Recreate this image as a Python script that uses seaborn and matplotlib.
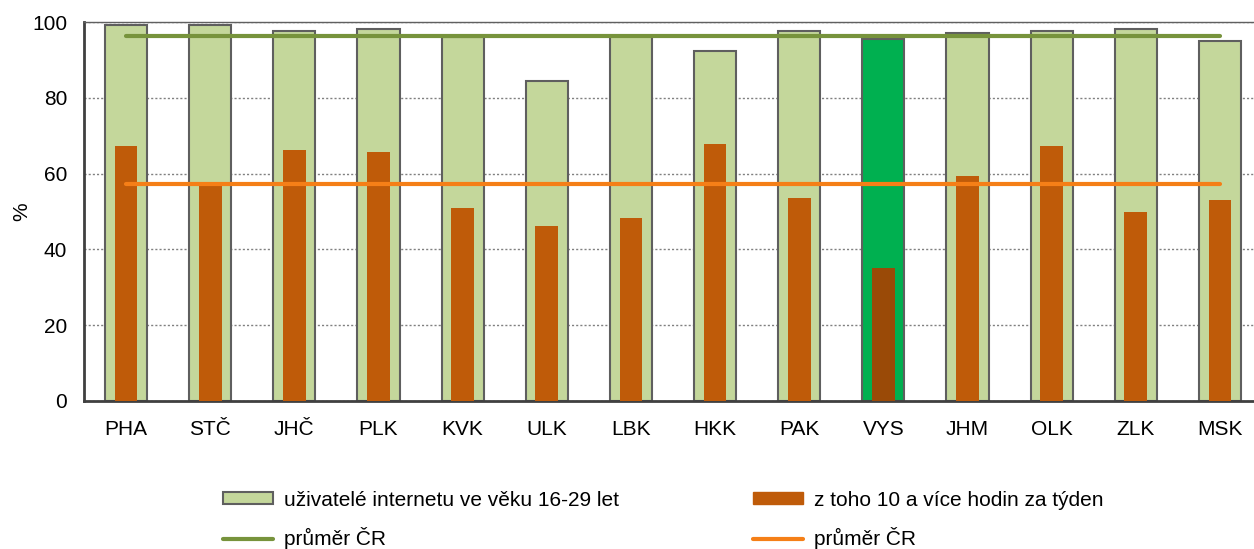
import numpy as np
import pandas as pd
import matplotlib
matplotlib.use("Agg")
import matplotlib.pyplot as plt
import seaborn as sns
from matplotlib.patches import Patch
from matplotlib.lines import Line2D

# -----------------------------
# Data
# -----------------------------

regions = ["PHA", "STČ", "JHČ", "PLK", "KVK", "ULK", "LBK",
           "HKK", "PAK", "VYS", "JHM", "OLK", "ZLK", "MSK"]

internet_users = [99.2, 99.2, 97.6, 98.2, 96.0, 84.4, 96.3,
                  92.3, 97.6, 95.5, 97.1, 97.6, 98.2, 95.0]

hours_10_plus = [67.3, 57.0, 66.2, 65.7, 50.9, 46.2, 48.3,
                 67.8, 53.6, 35.1, 59.4, 67.3, 49.9, 53.0]

avg_users = 96.3
avg_hours = 57.3

highlight = "VYS"

label_users = "uživatelé internetu ve věku 16-29 let"
label_hours = "z toho 10 a více hodin za týden"
label_avg = "průměr ČR"

# -----------------------------
# Styling
# -----------------------------

sns.set_style("white")
plt.rcParams["font.family"] = ["Liberation Sans", "DejaVu Sans"]
plt.rcParams["text.color"] = "black"

LIGHT_GREEN = "#C4D79B"
BRIGHT_GREEN = "#00B050"
ORANGE_BAR = "#BF5B09"
DARK_ORANGE = "#9A4A07"
AVG_GREEN = "#77933C"
AVG_ORANGE = "#F57F17"
EDGE = "#5F5F5F"

df = pd.DataFrame({
    "region": regions,
    "users": internet_users,
    "hours": hours_10_plus,
})

green_pal = {r: (BRIGHT_GREEN if r == highlight else LIGHT_GREEN) for r in regions}
orange_pal = {r: (DARK_ORANGE if r == highlight else ORANGE_BAR) for r in regions}

fig = plt.figure(figsize=(12.54, 5.49), dpi=100)
ax = fig.add_axes([84 / 1254, 148 / 549, (1262 - 84) / 1254, 379 / 549])

sns.barplot(data=df, x="region", y="users", hue="region", palette=green_pal,
            width=0.5, edgecolor=EDGE, linewidth=1.5, legend=False,
            saturation=1, ax=ax, zorder=2)

sns.barplot(data=df, x="region", y="hours", hue="region", palette=orange_pal,
            width=0.27, linewidth=0, legend=False, saturation=1,
            ax=ax, zorder=3)

n = len(regions)
sns.lineplot(x=np.arange(n), y=np.full(n, avg_users), color=AVG_GREEN,
             linewidth=3, ax=ax, zorder=4)
sns.lineplot(x=np.arange(n), y=np.full(n, avg_hours), color=AVG_ORANGE,
             linewidth=3, ax=ax, zorder=4)

# -----------------------------
# Axes
# -----------------------------

ax.set_xlim(-0.5, n - 0.5)
ax.set_ylim(0, 100)
ax.set_yticks(np.arange(0, 101, 20))
ax.yaxis.grid(True, linestyle=(0, (1.5, 1.5)), color="#808080", linewidth=1)
ax.set_axisbelow(True)

ax.set_xlabel("")
ax.set_ylabel("%", fontsize=15, labelpad=1, color="black")

ax.set_xticks(np.arange(n))
ax.set_xticklabels(regions)
ax.set_xticks(np.arange(-0.5, n, 1), minor=True)
ax.tick_params(axis="x", which="major", length=0, labelsize=15, pad=14,
               labelcolor="black")
ax.tick_params(axis="x", which="minor", length=5, width=1.5, color="#404040",
               direction="out")
ax.tick_params(axis="y", length=5, width=1.5, color="#404040",
               direction="out", labelsize=15, pad=7, labelcolor="black")

for side in ["left", "bottom"]:
    ax.spines[side].set_color("#404040")
    ax.spines[side].set_linewidth(2)
ax.spines["top"].set_color("#606060")
ax.spines["top"].set_linewidth(1)
ax.spines["right"].set_visible(False)

# -----------------------------
# Legend
# -----------------------------

handles = [
    Patch(facecolor=LIGHT_GREEN, edgecolor=EDGE, linewidth=1.5, label=label_users),
    Line2D([0], [0], color=AVG_GREEN, linewidth=3, label=label_avg),
    Patch(facecolor=ORANGE_BAR, edgecolor=ORANGE_BAR, label=label_hours),
    Line2D([0], [0], color=AVG_ORANGE, linewidth=3, label=label_avg),
]

fig.legend(handles=handles, ncol=2, loc="center left",
           bbox_to_anchor=(223 / 1254, 1 - 520 / 549), frameon=False,
           fontsize=15, handlelength=2.4, handleheight=0.5,
           handletextpad=0.55, columnspacing=6.4, labelspacing=0.85,
           borderpad=0, borderaxespad=0)

plt.savefig("out.png", dpi=100)
plt.close()
